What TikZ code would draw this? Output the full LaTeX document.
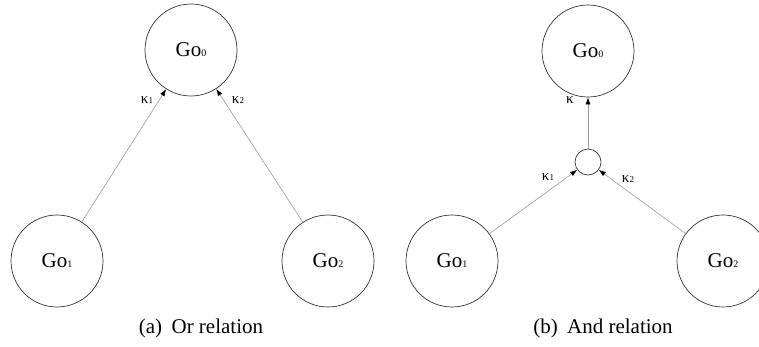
\documentclass[tikz,border=0pt]{standalone}
\usepackage{fontspec}
\setmainfont{Liberation Serif}
\usetikzlibrary{arrows.meta}
\newcommand{\goname}[1]{Go\raisebox{0pt}{\fontsize{10}{10}\selectfont #1}}
\newcommand{\kname}[1]{κ{\fontsize{9}{9}\selectfont #1}}
\begin{document}
\begin{tikzpicture}[x=1pt,y=-1pt,
  gonode/.style={circle,draw=black!80,line width=0.7pt,minimum size=92pt,inner sep=0pt,font=\fontsize{21}{21}\selectfont},
  junction/.style={circle,draw=black!80,line width=0.7pt,minimum size=26pt,inner sep=0pt},
  link/.style={draw=black!40,line width=0.6pt,-{Latex[length=7pt,width=5pt,color=black]}},
  klabel/.style={font=\fontsize{15}{15}\selectfont,inner sep=0pt},
  caption/.style={font=\fontsize{21}{21}\selectfont,inner sep=0pt}]
\useasboundingbox (0,0) rectangle (759,346);
% (a) Or relation
\node[gonode] (a0) at (191,50) {\goname{0}};
\node[gonode] (a1) at (57,261) {\goname{1}};
\node[gonode] (a2) at (328,261) {\goname{2}};
\draw[link] (a1) -- (a0);
\draw[link] (a2) -- (a0);
\node[klabel] (ak1) at (147,100) {\kname{1}};
\node[klabel] (ak2) at (238,100) {\kname{2}};
\node[caption] (capa) at (201,328) {(a)\hspace{0.45em}Or relation};
% (b) And relation
\node[gonode] (b0) at (588,51) {\goname{0}};
\node[junction] (bj) at (588,162) {};
\node[gonode] (b1) at (452,261) {\goname{1}};
\node[gonode] (b2) at (723,261) {\goname{2}};
\draw[link] (bj) -- (b0);
\draw[link] (b1) -- (bj);
\draw[link] (b2) -- (bj);
\node[klabel] (bk) at (570,100) {κ};
\node[klabel] (bk1) at (548,177) {\kname{1}};
\node[klabel] (bk2) at (628,179) {\kname{2}};
\node[caption] (capb) at (603,328) {(b)\hspace{0.45em}And relation};
\end{tikzpicture}
\end{document}
